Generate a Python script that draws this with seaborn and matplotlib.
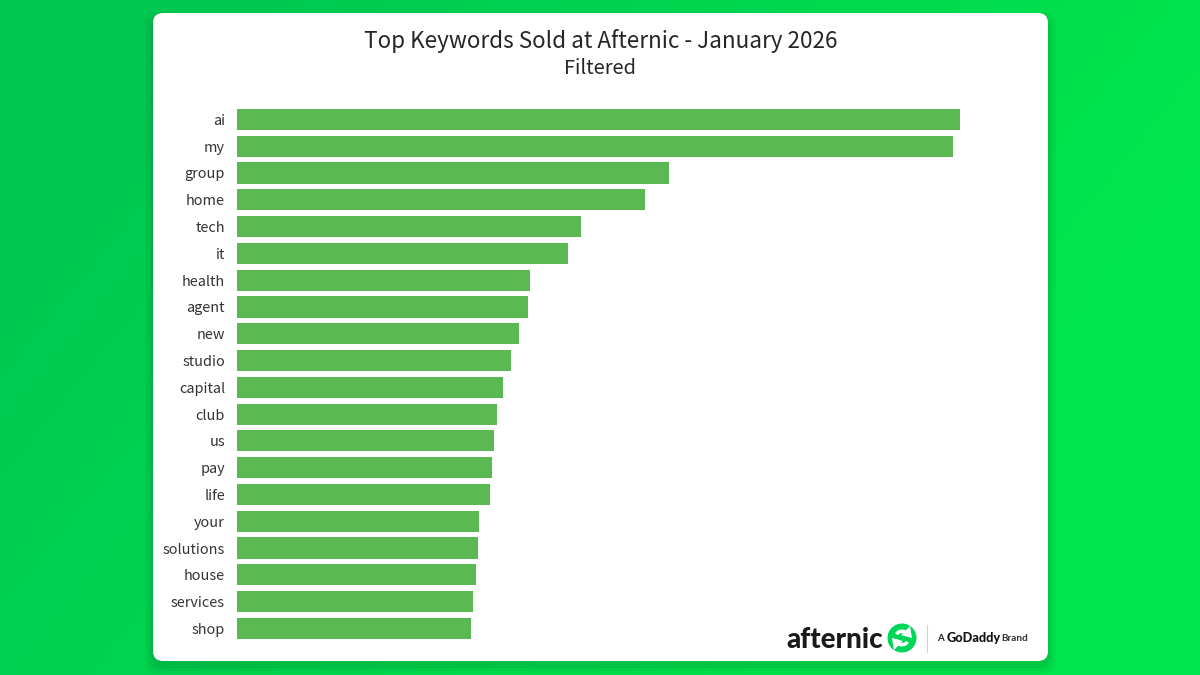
import numpy as np
import pandas as pd
import matplotlib
matplotlib.use("Agg")
import matplotlib.pyplot as plt
from matplotlib.patches import FancyBboxPatch, Circle, Wedge, Polygon
import seaborn as sns

keywords = ["ai", "my", "group", "home", "tech", "it", "health", "agent", "new", "studio",
            "capital", "club", "us", "pay", "life", "your", "solutions", "house", "services", "shop"]
counts = [723, 716, 432, 408, 344, 331, 293, 291, 282, 274,
          266, 260, 257, 255, 253, 242, 241, 239, 236, 234]

sns.set_theme(style="white")
plt.rcParams["font.family"] = ["Noto Sans CJK SC", "DejaVu Sans"]

W, H = 1200, 675
fig = plt.figure(figsize=(W / 100, H / 100), dpi=100)

# page: green background, white card, logo (pixel coordinates)
page = fig.add_axes([0, 0, 1, 1])
xx, yy = np.meshgrid(np.linspace(0, 1, 120), np.linspace(0, 1, 68))
shade = np.clip((xx - 0.15) * 1.1 + (yy - 0.1) * 0.5, 0, 1)
bg = np.zeros(xx.shape + (3,))
bg[..., 1] = (200 + 30 * shade) / 255
bg[..., 2] = (80 - 2 * shade) / 255
page.imshow(bg, extent=[0, W, H, 0], aspect="auto", interpolation="bilinear")
page.set_xlim(0, W)
page.set_ylim(H, 0)
page.axis("off")

for grow, a in [(8, 0.03), (5, 0.04), (2, 0.06)]:
    page.add_patch(FancyBboxPatch((153 - grow, 20 - grow), 895 + 2 * grow, 646 + 2 * grow,
                                  boxstyle="round,pad=0,rounding_size=12", fc="black", ec="none", alpha=a))
page.add_patch(FancyBboxPatch((153, 13), 895, 648, boxstyle="round,pad=0,rounding_size=10",
                              fc="white", ec="none"))

page.text(600.5, 41, "Top Keywords Sold at Afternic - January 2026", ha="center", va="center",
          fontsize=16.2, color="#262626")
page.text(600.5, 68, "Filtered", ha="center", va="center", fontsize=14.4, color="#262626")

# logo
page.text(786, 648, "afternic", ha="left", va="baseline", fontsize=20, fontweight="black",
          family="Lato", color="#1a1a1a")
page.add_patch(Circle((902, 638), 14.5, fc="#00d65a", ec="none"))
page.add_patch(Wedge((902, 638), 8.5, 35, 165, width=3.5, fc="white", ec="none"))
page.add_patch(Wedge((902, 638), 8.5, 215, 345, width=3.5, fc="white", ec="none"))
page.add_patch(Polygon([[910, 626], [912, 638], [901, 635]], fc="white", ec="none"))
page.add_patch(Polygon([[894, 650], [892, 638], [903, 641]], fc="white", ec="none"))
page.plot([927, 927], [625, 652], color="#cfcfcf", lw=0.8)
page.text(937, 638.5, "A", ha="left", va="center", fontsize=7, color="#222222", fontweight="bold", family="Lato")
page.text(947, 638, "GoDaddy", ha="left", va="center", fontsize=9.2, color="#111111", fontweight="black", family="Lato")
page.text(1001, 638.5, "Brand", ha="left", va="center", fontsize=7.2, color="#333333", fontweight="bold", family="Lato")

# chart
top, bottom = 106, 641.8
left, right = 237, 1000
ax = fig.add_axes([left / W, 1 - bottom / H, (right - left) / W, (bottom - top) / H])
ax.patch.set_alpha(0)
df = pd.DataFrame({"keyword": keywords, "count": counts})
sns.barplot(data=df, x="count", y="keyword", color="#5ab952", saturation=1, width=0.79, linewidth=0, ax=ax)
ax.set_xlim(0, right - left)
ax.set_xlabel("")
ax.set_ylabel("")
ax.set_xticks([])
ax.tick_params(axis="y", length=4, width=0.8, color="#f0f0f0", pad=4.6, labelsize=10.4, labelcolor="#333333")
sns.despine(ax=ax, left=True, bottom=True)

fig.savefig("out.png", dpi=100)
